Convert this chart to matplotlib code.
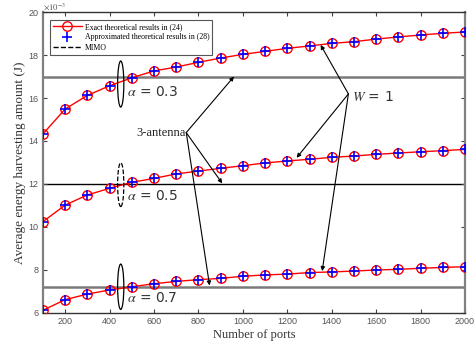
import matplotlib
matplotlib.use("Agg")
import matplotlib.pyplot as plt
from matplotlib.patches import Ellipse
import numpy as np

plt.rcParams['mathtext.fontset'] = 'stix'

ports = [100, 200, 300, 400, 500, 600, 700, 800, 900, 1000,
         1100, 1200, 1300, 1400, 1500, 1600, 1700, 1800, 1900, 2000]
exact_a03 = [14.33, 15.49, 16.12, 16.57, 16.94, 17.26, 17.44, 17.66, 17.86, 18.03,
             18.17, 18.31, 18.42, 18.54, 18.62, 18.74, 18.84, 18.93, 19.01, 19.07]
exact_a05 = [10.25, 11.02, 11.49, 11.80, 12.08, 12.26, 12.47, 12.60, 12.73, 12.85,
             12.98, 13.07, 13.15, 13.24, 13.30, 13.38, 13.44, 13.50, 13.55, 13.61]
exact_a07 = [6.13, 6.62, 6.88, 7.07, 7.22, 7.36, 7.47, 7.55, 7.61, 7.71,
             7.77, 7.81, 7.88, 7.91, 7.95, 8.00, 8.03, 8.08, 8.12, 8.15]
approx_a03 = exact_a03
approx_a05 = exact_a05
approx_a07 = exact_a07
mimo_levels = [17.0, 12.0, 7.22]
alpha_labels = [r'$\alpha$ = 0.3', r'$\alpha$ = 0.5', r'$\alpha$ = 0.7']
xticks = [200, 400, 600, 800, 1000, 1200, 1400, 1600, 1800, 2000]
yticks = [6, 8, 10, 12, 14, 16, 18, 20]

fig = plt.figure(figsize=(4.76, 3.46), dpi=100)
ax = fig.add_axes([0.0903, 0.0954, 0.8866, 0.8699])

gray = '#808080'
# MIMO lines
ax.axhline(mimo_levels[0], color='#7a7a7a', lw=1.8, zorder=1)
ax.axhline(mimo_levels[1], color='black', lw=1.0, zorder=1)
ax.axhline(mimo_levels[2], color='#7a7a7a', lw=1.8, zorder=1)

for i, (ex, ap) in enumerate([(exact_a03, approx_a03), (exact_a05, approx_a05), (exact_a07, approx_a07)]):
    l1, = ax.plot(ports, ex, color='red', lw=1.0, marker='o', ms=6.8, mfc='none',
                  mec='red', mew=1.0, zorder=3)
    l2, = ax.plot(ports, ap, ls='none', marker='+', ms=6.8, mec='blue', mew=1.2, zorder=4)
    if i == 0:
        h1, h2 = l1, l2
h3, = ax.plot([], [], color='black', ls='--', lw=1.0)

leg = ax.legend([h1, h2, h3],
                ['Exact theoretical results in (24)', 'Approximated theoretical results in (28)', 'MIMO'],
                loc='upper left', bbox_to_anchor=(0.008, 0.985),
                prop={'family': 'Liberation Serif', 'size': 5.6},
                handlelength=3.8, handletextpad=0.4, borderpad=0.3, labelspacing=0.35,
                fancybox=False, edgecolor='#555555', framealpha=1)
leg.get_frame().set_linewidth(0.8)

# ellipses
ell_centers = [16.65, 11.97, 7.22]
ell_heights = [2.14, 2.04, 2.11]
ell_styles = ['-', '--', '-']
for c, h, s in zip(ell_centers, ell_heights, ell_styles):
    ax.add_patch(Ellipse((450, c), 28, h, fill=False, ec='black', lw=0.9, ls=s, zorder=5))

alpha_y = [16.28, 11.46, 6.68]
for lab, y in zip(alpha_labels, alpha_y):
    ax.text(478, y, lab, fontsize=10, color='#333333', va='center', ha='left')

# 3-antenna annotation
ax.text(745, 14.35, '3-antenna', family='Liberation Serif', fontsize=9, color='#222222',
        ha='right', va='center')
for tx, ty in [(960, 17.0), (907, 12.03), (850, 7.28)]:
    ax.annotate('', xy=(tx, ty), xytext=(745, 14.39),
                arrowprops=dict(arrowstyle='-|>', color='black', lw=0.8,
                                mutation_scale=6, shrinkA=0, shrinkB=0))

# W = 1 annotation
ax.text(1490, 16.06, r'$W$ = 1', fontsize=10, color='#333333', ha='left', va='center')
for tx, ty in [(1350, 18.47), (1242, 13.22), (1357, 7.95)]:
    ax.annotate('', xy=(tx, ty), xytext=(1475, 16.19),
                arrowprops=dict(arrowstyle='-|>', color='black', lw=0.8,
                                mutation_scale=6, shrinkA=0, shrinkB=0))

ax.set_xlim(100, 2000)
ax.set_ylim(6, 20)
ax.set_xticks(xticks)
ax.set_yticks(yticks)
ax.set_xticklabels([str(v) for v in xticks], family='Liberation Sans', fontsize=6.5, color='#555555')
ax.set_yticklabels([str(v) for v in yticks], family='Liberation Sans', fontsize=6.5, color='#555555')
ax.tick_params(direction='in', top=True, right=True, length=3, width=0.8, color='#444444', pad=3)

for side in ['left', 'right']:
    ax.spines[side].set_color(gray)
    ax.spines[side].set_linewidth(1.6)
for side in ['top', 'bottom']:
    ax.spines[side].set_color('#333333')
    ax.spines[side].set_linewidth(1.0)

ax.text(0.0, 1.0, r'$\times10^{-3}$', transform=ax.transAxes, fontsize=6.2, color='#555555',
        ha='left', va='bottom')

ax.set_xlabel('Number of ports', family='Liberation Serif', fontsize=9, color='#333333', labelpad=2)
ax.set_ylabel('Average energy harvesting amount (J)', family='Liberation Serif', fontsize=9.5,
              color='#333333', labelpad=2)

fig.savefig('out.png', dpi=100)
